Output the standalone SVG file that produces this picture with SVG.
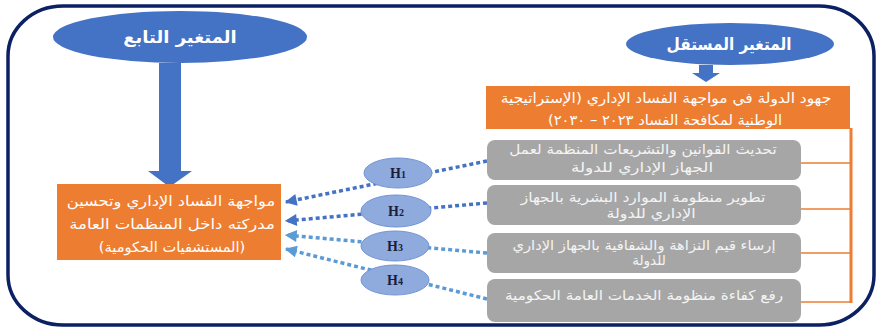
<svg xmlns="http://www.w3.org/2000/svg" width="877" height="331" viewBox="0 0 877 331">
<defs>
<style>
.ar{font-family:"DejaVu Sans",sans-serif;direction:rtl;text-anchor:middle}
.title{font-size:17px;font-weight:bold;fill:#ffffff}
.otext{font-size:14px;fill:#ffffff}
.gtext{font-size:13.5px;fill:#f4f4f4}
.gbox{fill:#a6a6a6}
.obox{fill:#ed7d31}
.ell{fill:#4472c4}
.hyp{fill:#8faadc;stroke:#7393d3;stroke-width:1}
.hl{font-family:"Liberation Serif",serif;font-weight:bold;font-size:14px;fill:#1c1c3a;text-anchor:middle}
.dk{fill:none;stroke:#4472c4;stroke-width:3.5;stroke-dasharray:4 3}
.lt{fill:none;stroke:#5b9bd5;stroke-width:3.5;stroke-dasharray:4 3}
.oline{stroke:#ed7d31;fill:none}
</style>
<marker id="ahd" viewBox="0 0 10 10" refX="9" refY="5" markerWidth="4.5" markerHeight="3.4" orient="auto" markerUnits="strokeWidth">
<path d="M0,0 L10,5 L0,10 z" fill="#4472c4"/>
</marker>
<marker id="ahl" viewBox="0 0 10 10" refX="9" refY="5" markerWidth="4.5" markerHeight="3.4" orient="auto" markerUnits="strokeWidth">
<path d="M0,0 L10,5 L0,10 z" fill="#5b9bd5"/>
</marker>
</defs>
<rect width="877" height="331" fill="#ffffff"/>
<rect id="frame" x="8" y="6" width="866" height="319" rx="55" ry="50" fill="none" stroke="#0c2064" stroke-width="3.5"/>

<g id="dependent-title">
<ellipse class="ell" cx="180" cy="37" rx="127" ry="26"/>
<text class="ar title" transform="translate(180,43) scale(1.06,1)">المتغير التابع</text>
</g>
<g id="dep-arrow">
<path d="M159,63 H181 V171 H192 L169.5,187 L148,171 H159 Z" fill="#4472c4"/>
</g>
<g id="dependent-box">
<rect class="obox" x="57" y="184" width="224" height="76"/>
<text class="ar otext" transform="translate(171,206) scale(1.16,1)">مواجهة الفساد الإداري وتحسين</text>
<text class="ar otext" transform="translate(172,229) scale(1.18,1)">مدركته داخل المنظمات العامة</text>
<text class="ar otext" transform="translate(172,252) scale(1.04,1)">(المستشفيات الحكومية)</text>
</g>

<g id="independent-title">
<ellipse class="ell" cx="730" cy="44" rx="104" ry="21"/>
<text class="ar title" transform="translate(729,50) scale(0.9,1)">المتغير المستقل</text>
</g>
<g id="ind-arrow">
<path d="M699,65 H713 V73 H720 L706,82 L692,73 H699 Z" fill="#4472c4"/>
</g>
<g id="independent-box">
<rect class="obox" x="486" y="86" width="364" height="43"/>
<text class="ar otext" transform="translate(666,103) scale(1.1,1)">جهود الدولة في مواجهة الفساد الإداري (الإستراتيجية</text>
<text class="ar otext" transform="translate(665,125) scale(1.05,1)">الوطنية لمكافحة الفساد ٢٠٢٣ – ٢٠٣٠)</text>
</g>

<g id="connectors">
<path class="oline" stroke-width="3" d="M851,128 V303"/>
<path class="oline" stroke-width="1.5" d="M800,163 H851 M800,209 H851 M800,253 H851 M800,302 H851"/>
<path class="dk" d="M487,161 L286,202" marker-end="url(#ahd)"/>
<path class="dk" d="M487,203 L286,221" marker-end="url(#ahd)"/>
<path class="lt" d="M487,253 L286,235" marker-end="url(#ahl)"/>
<path class="lt" d="M487,299 L286,249" marker-end="url(#ahl)"/>
</g>

<g id="dim1">
<rect class="gbox" x="487" y="140" width="314" height="40" rx="8"/>
<text class="ar gtext" transform="translate(643,154) scale(1.13,1)">تحديث القوانين والتشريعات المنظمة لعمل</text>
<text class="ar gtext" transform="translate(642,172) scale(1.25,1)">الجهاز الإداري للدولة</text>
</g>
<g id="dim2">
<rect class="gbox" x="487" y="185" width="314" height="40" rx="8"/>
<text class="ar gtext" transform="translate(643,202) scale(1.15,1)">تطوير منظومة الموارد البشرية بالجهاز</text>
<text class="ar gtext" transform="translate(651,218) scale(1.17,1)">الإداري للدولة</text>
</g>
<g id="dim3">
<rect class="gbox" x="487" y="233" width="314" height="40" rx="8"/>
<text class="ar gtext" transform="translate(644,250) scale(1.09,1)">إرساء قيم النزاهة والشفافية بالجهاز الإداري</text>
<text class="ar gtext" transform="translate(649,265)">للدولة</text>
</g>
<g id="dim4">
<rect class="gbox" x="487" y="279" width="314" height="43" rx="8"/>
<text class="ar gtext" transform="translate(644,300) scale(1.13,1)">رفع كفاءة منظومة الخدمات العامة الحكومية</text>
</g>

<g id="H1">
<ellipse class="hyp" cx="398" cy="173" rx="34" ry="15"/>
<text class="hl" x="398" y="178">H<tspan font-size="10">1</tspan></text>
</g>
<g id="H2">
<ellipse class="hyp" cx="396" cy="211" rx="35" ry="16"/>
<text class="hl" x="396" y="216">H<tspan font-size="10">2</tspan></text>
</g>
<g id="H3">
<ellipse class="hyp" cx="395" cy="246" rx="34" ry="15"/>
<text class="hl" x="395" y="251">H<tspan font-size="10">3</tspan></text>
</g>
<g id="H4">
<ellipse class="hyp" cx="395" cy="280" rx="34" ry="15"/>
<text class="hl" x="395" y="285">H<tspan font-size="10">4</tspan></text>
</g>
</svg>
